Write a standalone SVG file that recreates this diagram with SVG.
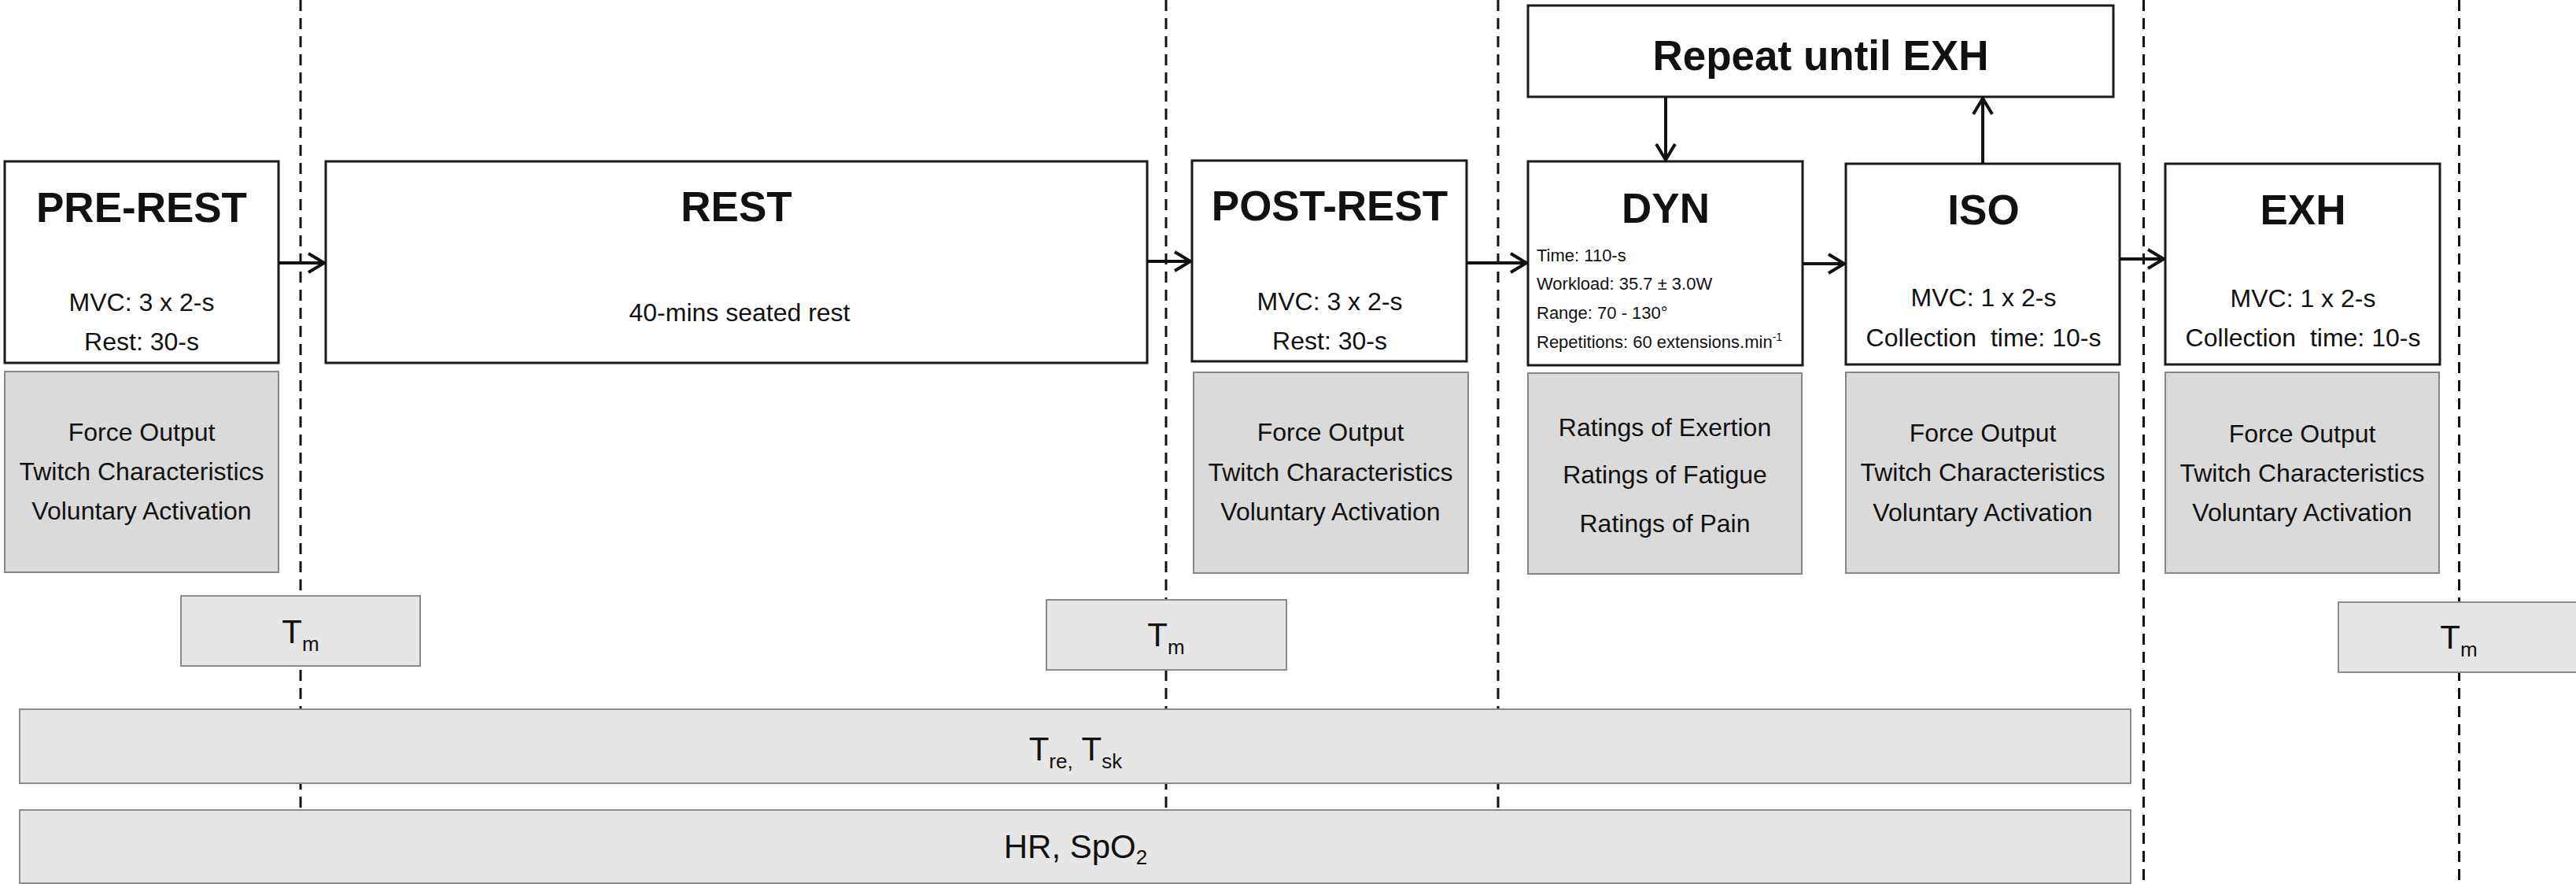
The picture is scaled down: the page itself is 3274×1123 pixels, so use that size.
<svg xmlns="http://www.w3.org/2000/svg" width="3274" height="1123" viewBox="0 0 3274 1123">
<style>
.box{fill:#ffffff;stroke:#1a1a1a;stroke-width:3}
.meas{fill:#dadada;stroke:#868686;stroke-width:2}
.band{fill:#e6e6e6;stroke:#8c8c8c;stroke-width:2}
text{font-family:"Liberation Sans",Arial,Helvetica,sans-serif;fill:#111111}
.ttl{font-weight:bold;font-size:53px;text-anchor:middle}
.txt{font-size:32px;text-anchor:middle}
.sm{font-size:22px}
.lbl{font-size:42px;text-anchor:middle}
.sub{font-size:26px}
.sup{font-size:14px}
.dash{stroke:#111111;stroke-width:3;stroke-dasharray:14 9;fill:none}
.conn{stroke:#111111;stroke-width:4;fill:none;marker-end:url(#arr)}
</style>
<defs>
<marker id="arr" markerUnits="userSpaceOnUse" markerWidth="26" markerHeight="28" viewBox="0 0 26 28" refX="23" refY="14" orient="auto">
<path d="M3,2 L23,14 L3,26" fill="none" stroke="#111111" stroke-width="4"/>
</marker>
</defs>
<rect x="0" y="0" width="3274" height="1123" fill="#ffffff"/>
<g id="phase-dividers">
<line class="dash" x1="382" y1="0" x2="382" y2="1123"/>
<line class="dash" x1="1482" y1="0" x2="1482" y2="1123"/>
<line class="dash" x1="1904" y1="0" x2="1904" y2="1123"/>
<line class="dash" x1="2724.5" y1="0" x2="2724.5" y2="1123"/>
<line class="dash" x1="3125.5" y1="0" x2="3125.5" y2="1123"/>
</g>
<g id="node-pre-rest">
<rect class="box" x="6" y="205" width="348" height="256"/>
<text class="ttl" x="180" y="282">PRE-REST</text>
<text class="txt" x="180" y="395">MVC: 3 x 2-s</text>
<text class="txt" x="180" y="445">Rest: 30-s</text>
</g>
<g id="meas-pre-rest">
<rect class="meas" x="6" y="472" width="348" height="255"/>
<text class="txt" x="180" y="560">Force Output</text>
<text class="txt" x="180" y="610">Twitch Characteristics</text>
<text class="txt" x="180" y="660">Voluntary Activation</text>
</g>
<g id="node-rest">
<rect class="box" x="414" y="205" width="1044" height="256"/>
<text class="ttl" x="936" y="281">REST</text>
<text class="txt" x="940" y="408">40-mins seated rest</text>
</g>
<g id="node-post-rest">
<rect class="box" x="1515" y="204" width="349" height="255"/>
<text class="ttl" x="1690" y="280">POST-REST</text>
<text class="txt" x="1690" y="394">MVC: 3 x 2-s</text>
<text class="txt" x="1690" y="444">Rest: 30-s</text>
</g>
<g id="meas-post-rest">
<rect class="meas" x="1517" y="473" width="349" height="255"/>
<text class="txt" x="1691" y="560">Force Output</text>
<text class="txt" x="1691" y="611">Twitch Characteristics</text>
<text class="txt" x="1691" y="661">Voluntary Activation</text>
</g>
<g id="node-repeat">
<rect class="box" x="1942" y="7" width="744" height="116"/>
<text class="ttl" x="2314" y="89">Repeat until EXH</text>
</g>
<g id="node-dyn">
<rect class="box" x="1942" y="205" width="349" height="259"/>
<text class="ttl" x="2117" y="283">DYN</text>
<text class="sm" x="1953" y="332">Time: 110-s</text>
<text class="sm" x="1953" y="368">Workload: 35.7 ± 3.0W</text>
<text class="sm" x="1953" y="405">Range: 70 - 130°</text>
<text class="sm" x="1953" y="442">Repetitions: 60 extensions.min<tspan class="sup" dy="-9">-1</tspan></text>
</g>
<g id="meas-dyn">
<rect class="meas" x="1942" y="474" width="348" height="255"/>
<text class="txt" x="2116" y="554">Ratings of Exertion</text>
<text class="txt" x="2116" y="614">Ratings of Fatigue</text>
<text class="txt" x="2116" y="676">Ratings of Pain</text>
</g>
<g id="node-iso">
<rect class="box" x="2346" y="208" width="348" height="255"/>
<text class="ttl" x="2521" y="285">ISO</text>
<text class="txt" x="2521" y="389">MVC: 1 x 2-s</text>
<text class="txt" x="2521" y="440" xml:space="preserve">Collection  time: 10-s</text>
</g>
<g id="meas-iso">
<rect class="meas" x="2346" y="473" width="347" height="255"/>
<text class="txt" x="2520" y="561">Force Output</text>
<text class="txt" x="2520" y="611">Twitch Characteristics</text>
<text class="txt" x="2520" y="662">Voluntary Activation</text>
</g>
<g id="node-exh">
<rect class="box" x="2752" y="208" width="349" height="255"/>
<text class="ttl" x="2927" y="285">EXH</text>
<text class="txt" x="2927" y="390">MVC: 1 x 2-s</text>
<text class="txt" x="2927" y="440" xml:space="preserve">Collection  time: 10-s</text>
</g>
<g id="meas-exh">
<rect class="meas" x="2752" y="473" width="348" height="255"/>
<text class="txt" x="2926" y="562">Force Output</text>
<text class="txt" x="2926" y="612">Twitch Characteristics</text>
<text class="txt" x="2926" y="662">Voluntary Activation</text>
</g>
<g id="connectors">
<path class="conn" d="M354,334 H412"/>
<path class="conn" d="M1458,332 H1513"/>
<path class="conn" d="M1864,334 H1940"/>
<path class="conn" d="M2291,335 H2344"/>
<path class="conn" d="M2694,329 H2750"/>
<path class="conn" d="M2117,123 V203"/>
<path class="conn" d="M2520,208 V125"/>
</g>
<g id="tm-1">
<rect class="band" x="230" y="757" width="304" height="89"/>
<text class="lbl" x="382" y="817">T<tspan class="sub" dy="10">m</tspan></text>
</g>
<g id="tm-2">
<rect class="band" x="1330" y="762" width="305" height="89"/>
<text class="lbl" x="1482" y="821">T<tspan class="sub" dy="10">m</tspan></text>
</g>
<g id="tm-3">
<rect class="band" x="2972" y="765" width="320" height="89"/>
<text class="lbl" x="3125" y="824">T<tspan class="sub" dy="10">m</tspan></text>
</g>
<g id="band-tre-tsk">
<rect class="band" x="25" y="901" width="2683" height="94"/>
<text class="lbl" x="1367" y="966">T<tspan class="sub" dy="10">re,</tspan><tspan dy="-10"> T</tspan><tspan class="sub" dy="10">sk</tspan></text>
</g>
<g id="band-hr-spo2">
<rect class="band" x="25" y="1029" width="2683" height="93"/>
<text class="lbl" x="1367" y="1090">HR, SpO<tspan class="sub" dy="8">2</tspan></text>
</g>
</svg>
